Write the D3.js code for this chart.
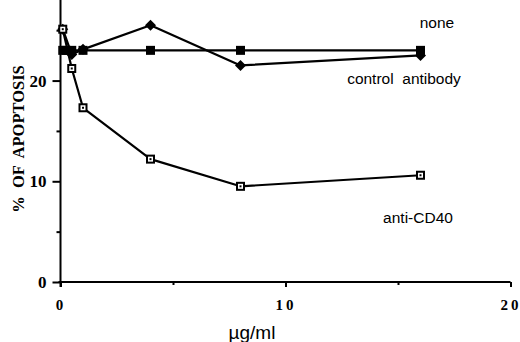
<!DOCTYPE html>
<html>
<head>
<meta charset="utf-8">
<script src="https://cdn.jsdelivr.net/npm/d3@7"></script>
<style>
  body { margin: 0; background: #fff; }
  svg { display: block; }
</style>
</head>
<body>
<svg id="chart" width="520" height="342"></svg>
<script>
// values
let noneX = [0.1, 0.25, 0.5, 1, 4, 8, 16],
    noneY = [23.0, 23.0, 23.0, 23.0, 23.0, 23.0, 23.0];
let controlX = [0.1, 0.5, 1, 4, 8, 16],
    controlY = [25.1, 22.6, 23.1, 25.5, 21.5, 22.5];
let cd40X = [0.1, 0.5, 1, 4, 8, 16],
    cd40Y = [25.1, 21.2, 17.3, 12.2, 9.5, 10.6];

let xTicks = [0, 10, 20],
    xMinor = [5, 15],
    yTicks = [0, 10, 20],
    yMinor = [5, 15, 25];

let seriesLabels = ["none", "control  antibody", "anti-CD40"];

let svg = d3.select("#chart");

let x = d3.scaleLinear().domain([0, 20]).range([60.5, 510.5]);
let y = d3.scaleLinear().domain([0, 28]).range([282, 0]);

// axis lines
svg.append("line")
    .attr("x1", x(0)).attr("x2", x(0))
    .attr("y1", 0).attr("y2", y(0) + 5)
    .attr("stroke", "#000").attr("stroke-width", 2);
svg.append("line")
    .attr("x1", x(0) - 2).attr("x2", x(20))
    .attr("y1", y(0)).attr("y2", y(0))
    .attr("stroke", "#000").attr("stroke-width", 2);

// y axis ticks
let yAxis = svg.append("g")
    .attr("transform", `translate(${x(0)},0)`)
    .call(d3.axisLeft(y).tickValues(yTicks).tickSize(8).tickPadding(6));
let yAxisMinor = svg.append("g")
    .attr("transform", `translate(${x(0)},0)`)
    .call(d3.axisLeft(y).tickValues(yMinor).tickSize(4).tickFormat(""));

// x axis ticks
let xAxis = svg.append("g")
    .attr("transform", `translate(0,${y(0)})`)
    .call(d3.axisBottom(x).tickValues(xTicks).tickSize(5).tickPadding(12));
let xAxisMinor = svg.append("g")
    .attr("transform", `translate(0,${y(0)})`)
    .call(d3.axisBottom(x).tickValues(xMinor).tickSize(3).tickFormat(""));

svg.selectAll(".domain").remove();
svg.selectAll(".tick line").attr("stroke", "#000").attr("stroke-width", 2);

yAxis.selectAll("text")
    .attr("font-family", "Liberation Serif, serif")
    .attr("font-weight", "bold")
    .attr("font-size", 17)
    .attr("fill", "#000");
xAxis.selectAll("text")
    .attr("font-family", "Liberation Serif, serif")
    .attr("font-weight", "bold")
    .attr("font-size", 15)
    .attr("letter-spacing", 3)
    .attr("fill", "#000");

// axis titles
svg.append("text")
    .attr("transform", "translate(24,139) rotate(-90)")
    .attr("text-anchor", "middle")
    .attr("font-family", "Liberation Serif, serif")
    .attr("font-weight", "bold")
    .attr("font-size", 16.5)
    .style("white-space", "pre")
    .text("%  OF  APOPTOSIS");

svg.append("text")
    .attr("x", 252)
    .attr("y", 339)
    .attr("text-anchor", "middle")
    .attr("font-family", "Liberation Sans, Arial, sans-serif")
    .attr("font-size", 19)
    .text("\u00b5g/ml");

// lines
let line = d3.line()
    .x(d => x(d[0]))
    .y(d => y(d[1]));

let noneData = d3.zip(noneX, noneY),
    controlData = d3.zip(controlX, controlY),
    cd40Data = d3.zip(cd40X, cd40Y);

[noneData, controlData, cd40Data].forEach(function(data){
    svg.append("path")
        .datum(data)
        .attr("fill", "none")
        .attr("stroke", "#000")
        .attr("stroke-width", 2.2)
        .attr("stroke-linejoin", "round")
        .attr("d", line);
});

// markers: filled squares for none
svg.append("g")
    .selectAll("rect")
    .data(noneData)
    .join("rect")
    .attr("x", d => x(d[0]) - 4.5)
    .attr("y", d => y(d[1]) - 4.5)
    .attr("width", 9)
    .attr("height", 9)
    .attr("fill", "#000");

// filled diamonds for control antibody
svg.append("g")
    .selectAll("path")
    .data(controlData)
    .join("path")
    .attr("transform", d => `translate(${x(d[0])},${y(d[1])})`)
    .attr("d", "M0,-5.5L5.5,0L0,5.5L-5.5,0Z")
    .attr("fill", "#000");

// open squares with dot for anti-CD40
let cd40 = svg.append("g")
    .selectAll("g")
    .data(cd40Data)
    .join("g")
    .attr("transform", d => `translate(${x(d[0])},${y(d[1])})`);
cd40.append("rect")
    .attr("x", -3.5).attr("y", -3.5)
    .attr("width", 7).attr("height", 7)
    .attr("fill", "#fff")
    .attr("stroke", "#000")
    .attr("stroke-width", 2);
cd40.append("rect")
    .attr("x", -1).attr("y", -1)
    .attr("width", 2).attr("height", 2)
    .attr("fill", "#000");

// series labels
let labelPos = [[437, 28], [404, 84], [418, 223]];
svg.append("g")
    .selectAll("text")
    .data(seriesLabels)
    .join("text")
    .attr("x", (d, i) => labelPos[i][0])
    .attr("y", (d, i) => labelPos[i][1])
    .attr("text-anchor", "middle")
    .attr("font-family", "Liberation Sans, Arial, sans-serif")
    .attr("font-size", 15.5)
    .style("white-space", "pre")
    .text(d => d);
</script>
</body>
</html>
